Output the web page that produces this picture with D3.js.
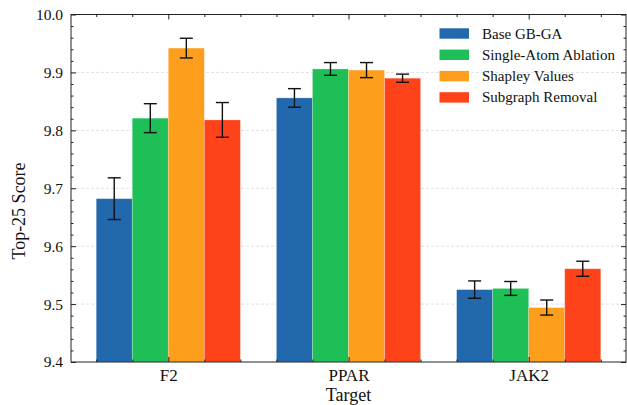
<!DOCTYPE html>
<html>
<head>
<meta charset="utf-8">
<script src="https://cdn.jsdelivr.net/npm/d3@7"></script>
<style>
  body { margin: 0; background: #fff; }
  svg { display: block; }
  svg text { font-family: "Liberation Serif", "Times New Roman", "DejaVu Serif", serif !important; fill: #111; }
</style>
</head>
<body>
<svg id="chart" width="627" height="405"></svg>
<script>
const categories = ["F2", "PPAR", "JAK2"];
const seriesNames = ["Base GB-GA", "Single-Atom Ablation", "Shapley Values", "Subgraph Removal"];
const seriesColors = ["#2268ac", "#1dbf56", "#fd9e1c", "#fe421a"];
const meanValues = [
  [9.682, 9.856, 9.525],   // Base GB-GA
  [9.821, 9.906, 9.527],   // Single-Atom Ablation
  [9.942, 9.904, 9.494],   // Shapley Values
  [9.818, 9.890, 9.561]    // Subgraph Removal
];
const errValues = [
  [0.036, 0.016, 0.015],
  [0.025, 0.011, 0.012],
  [0.017, 0.013, 0.013],
  [0.030, 0.007, 0.013]
];
const yTicks = [9.4, 9.5, 9.6, 9.7, 9.8, 9.9, 10.0];

const SERIF = "'Liberation Serif', 'Times New Roman', serif";
const svg = d3.select("#chart");
const x0 = 71, x1 = 626, y0 = 362, y1 = 14.5;

const x = d3.scaleLinear().domain([-0.54, 2.54]).range([x0, x1]);
const y = d3.scaleLinear().domain([9.4, 10.0]).range([y0, y1]);
const barW = 0.2;

// grid
svg.append("g").selectAll("line").data(yTicks.slice(1, -1)).join("line")
  .attr("x1", x0).attr("x2", x1)
  .attr("y1", d => y(d)).attr("y2", d => y(d))
  .attr("stroke", "#d8d8d8").attr("stroke-width", 0.8).attr("stroke-dasharray", "3,2");

// bars
const bars = svg.append("g");
seriesNames.forEach((s, si) => {
  categories.forEach((c, ci) => {
    const cx = ci + (si - 1.5) * barW;
    bars.append("rect")
      .attr("x", x(cx - barW / 2))
      .attr("width", x(cx + barW / 2) - x(cx - barW / 2))
      .attr("y", y(meanValues[si][ci]))
      .attr("height", y0 - y(meanValues[si][ci]))
      .attr("fill", seriesColors[si])
      .attr("stroke", "#ffffff").attr("stroke-opacity", 0.3).attr("stroke-width", 0.8);
  });
});

// error bars
const eb = svg.append("g").attr("stroke", "#111").attr("stroke-width", 1.4);
seriesNames.forEach((s, si) => {
  categories.forEach((c, ci) => {
    const cx = x(ci + (si - 1.5) * barW);
    const lo = y(meanValues[si][ci] - errValues[si][ci]);
    const hi = y(meanValues[si][ci] + errValues[si][ci]);
    eb.append("line").attr("x1", cx).attr("x2", cx).attr("y1", lo).attr("y2", hi);
    eb.append("line").attr("x1", cx - 6.5).attr("x2", cx + 6.5).attr("y1", lo).attr("y2", lo);
    eb.append("line").attr("x1", cx - 6.5).attr("x2", cx + 6.5).attr("y1", hi).attr("y2", hi);
  });
});

// frame
svg.append("rect").attr("x", x0).attr("y", y1).attr("width", x1 - x0).attr("height", y0 - y1)
  .attr("fill", "none").attr("stroke", "#222").attr("stroke-width", 1);

function tidy(g) {
  g.attr("font-family", SERIF);
  g.select(".domain").remove();
  g.selectAll("line").attr("stroke", "#222");
  return g;
}

// y axis
const yMinor = d3.range(9.4, 10.0001, 0.02).map(v => +v.toFixed(2)).filter(v => !yTicks.some(t => Math.abs(t - v) < 1e-6));
const gy = tidy(svg.append("g").attr("transform", `translate(${x0},0)`)
  .call(d3.axisLeft(y).tickValues(yTicks).tickFormat(d3.format(".1f")).tickSizeInner(-5).tickSizeOuter(0).tickPadding(8)));
gy.selectAll("text").style("font-size", "15.5px").style("font-family", SERIF).attr("fill", "#111");
tidy(svg.append("g").attr("transform", `translate(${x0},0)`)
  .call(d3.axisLeft(y).tickValues(yMinor).tickFormat("").tickSizeInner(-2.5).tickSizeOuter(0)));
tidy(svg.append("g").attr("transform", `translate(${x1},0)`)
  .call(d3.axisRight(y).tickValues(yTicks).tickFormat("").tickSizeInner(-5).tickSizeOuter(0)));
tidy(svg.append("g").attr("transform", `translate(${x1},0)`)
  .call(d3.axisRight(y).tickValues(yMinor).tickFormat("").tickSizeInner(-2.5).tickSizeOuter(0)));

// x axis
const xMajor = [0, 1, 2];
const xMinor = d3.range(-0.4, 2.41, 0.2).map(v => +v.toFixed(1)).filter(v => !xMajor.includes(v));
const gx = tidy(svg.append("g").attr("transform", `translate(0,${y0})`)
  .call(d3.axisBottom(x).tickValues(xMajor).tickFormat(i => categories[i]).tickSizeInner(-5).tickSizeOuter(0).tickPadding(7)));
gx.selectAll("text").style("font-size", "17px").style("font-family", SERIF).attr("fill", "#111");
tidy(svg.append("g").attr("transform", `translate(0,${y0})`)
  .call(d3.axisBottom(x).tickValues(xMinor).tickFormat("").tickSizeInner(-2.5).tickSizeOuter(0)));
tidy(svg.append("g").attr("transform", `translate(0,${y1})`)
  .call(d3.axisTop(x).tickValues(xMajor).tickFormat("").tickSizeInner(-5).tickSizeOuter(0)));
tidy(svg.append("g").attr("transform", `translate(0,${y1})`)
  .call(d3.axisTop(x).tickValues(xMinor).tickFormat("").tickSizeInner(-2.5).tickSizeOuter(0)));

// axis labels
svg.append("text").attr("x", (x0 + x1) / 2).attr("y", 401).attr("text-anchor", "middle")
  .style("font-size", "18px").style("font-family", SERIF).text("Target");
svg.append("text").attr("transform", `translate(25,211) rotate(-90)`).attr("text-anchor", "middle")
  .style("font-size", "18px").style("font-family", SERIF).text("Top-25 Score");

// legend
const lg = svg.append("g");
seriesNames.forEach((s, i) => {
  const ly = 33.5 + i * 21.3;
  lg.append("rect").attr("x", 439.5).attr("y", ly - 5.2).attr("width", 29.5).attr("height", 10.4)
    .attr("fill", seriesColors[i]);
  lg.append("text").attr("x", 482).attr("y", ly + 5).style("font-size", "15px").style("font-family", SERIF).text(s);
});
</script>
</body>
</html>
